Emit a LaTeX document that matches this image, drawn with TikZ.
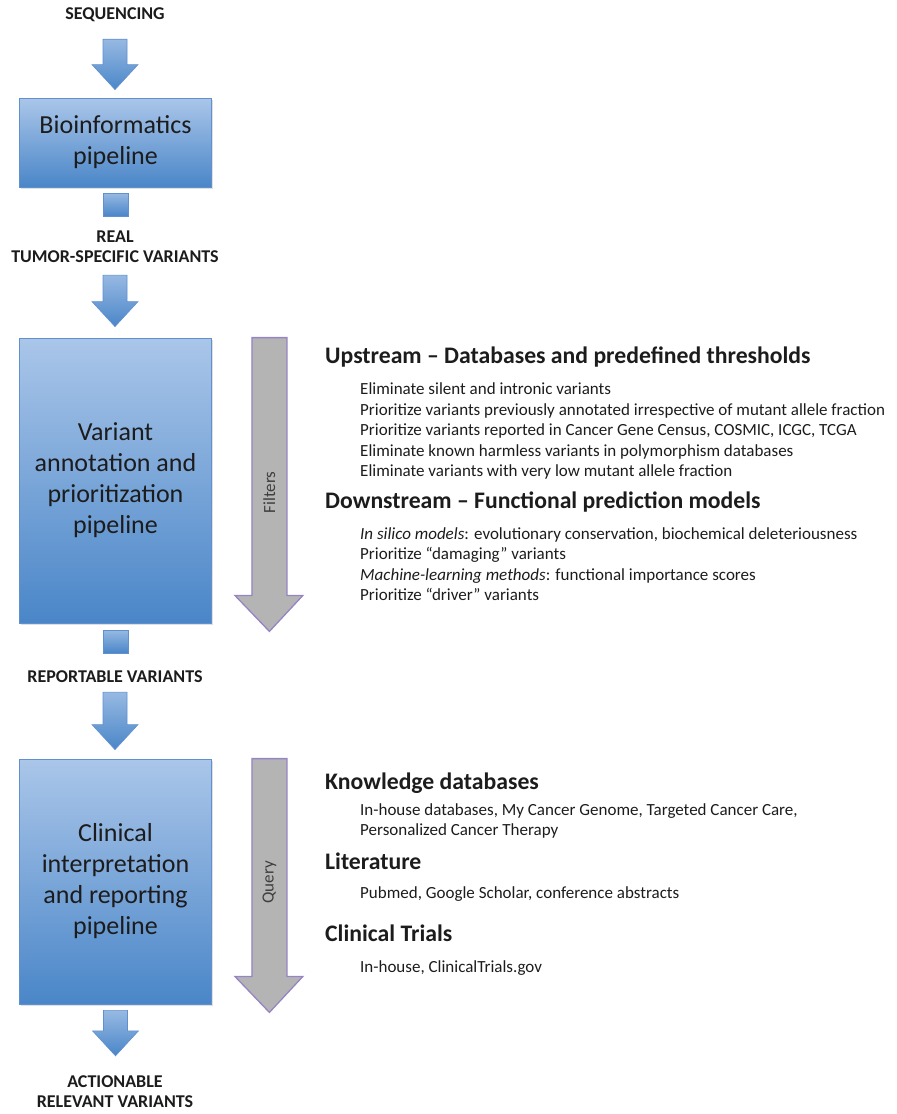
\documentclass[tikz,border=0pt]{standalone}
\usepackage{fontspec}
\setmainfont{Carlito}
\usetikzlibrary{calc,shadows}

\definecolor{pipetop}{RGB}{170,198,233}
\definecolor{pipebot}{RGB}{74,134,200}
\definecolor{pipeedge}{RGB}{96,144,206}
\definecolor{sidefill}{RGB}{180,180,180}
\definecolor{sideedge}{RGB}{150,132,196}
\definecolor{ink}{RGB}{28,28,28}

% blue block arrow between two nodes: #3 gap below the first, #4 gap above the second
\newcommand{\blockarrow}[4]{%
  \shade[flowarrow] let \p1=(#1.south), \p2=(#2.north) in
    (\x1-12pt,\y1-#3pt) -- (\x1+12pt,\y1-#3pt) -- (\x1+12pt,\y2+#4pt+25pt)
    -- (\x1+23pt,\y2+#4pt+25pt) -- (\x1,\y2+#4pt) -- (\x1-23pt,\y2+#4pt+25pt)
    -- (\x1-12pt,\y2+#4pt+25pt) -- cycle;}

% grey arrow running down the right side of a pipeline box, #4 moves the label down
\newcommand{\sidearrow}[4]{%
  \filldraw[sidearrowline] let \p1=(#1.north east), \p2=(#1.south east) in
    (\x1+40pt,\y1) -- (\x1+75pt,\y1) -- (\x1+75pt,\y2+28pt) -- (\x1+91pt,\y2+28pt)
    -- (\x1+57.5pt,\y2-8pt) -- (\x1+23pt,\y2+28pt) -- (\x1+40pt,\y2+28pt) -- cycle;
  \node[sidelabel] (#2) at ($(#1.north east)!0.5!(#1.south east)+(57.5pt,-#4pt)$) {#3};}

\begin{document}
\begin{tikzpicture}[
    x=1pt, y=-1pt,
    every node/.style={text=ink},
    pipebox/.style={rectangle, draw=pipeedge, line width=0.8pt, top color=pipetop, bottom color=pipebot,
        align=center, minimum width=192pt, inner sep=0pt, font=\fontsize{26}{31}\selectfont,
        drop shadow={shadow xshift=1pt, shadow yshift=-2pt, opacity=0.25}},
    stub/.style={rectangle, draw=pipeedge, line width=0.6pt, top color=pipetop!80!pipebot, bottom color=pipebot,
        minimum width=25pt, minimum height=23pt, inner sep=0pt},
    flowarrow/.style={draw=pipeedge, line width=0.6pt, top color=pipetop!80!pipebot, bottom color=pipebot},
    stage/.style={align=center, inner sep=0pt, font=\bfseries\fontsize{18}{20}\selectfont},
    sidearrowline/.style={fill=sidefill, draw=sideedge, line width=1.3pt, line join=miter},
    sidelabel/.style={rotate=90, inner sep=0pt, text=ink!85, font=\fontsize{17}{20}\selectfont},
    heading/.style={anchor=west, inner sep=0pt, font=\bfseries\fontsize{23.7}{27}\selectfont},
    items/.style={anchor=west, align=left, inner sep=0pt, font=\fontsize{17}{20.5}\selectfont}
]
    \useasboundingbox (0,0) rectangle (897,1114);

    % left column
    \node [stage] (seq) at (115,15) {SEQUENCING};
    \node [pipebox, minimum height=89pt] (bio) at (115.5,142.5) {Bioinformatics\\pipeline};
    \node [stub] (stub1) at (115.5,204.5) {};
    \node [stage] (real) at (115,247) {REAL\\TUMOR-SPECIFIC VARIANTS};
    \node [pipebox, minimum height=285pt] (var) at (115.5,480.5) {Variant\\annotation and\\prioritization\\pipeline};
    \node [stub] (stub2) at (115.5,641.5) {};
    \node [stage] (rep) at (115,677) {REPORTABLE VARIANTS};
    \node [pipebox, minimum height=245pt] (clin) at (115.5,881.5) {Clinical\\interpretation\\and reporting\\pipeline};
    \node [stage] (act) at (115,1092) {ACTIONABLE\\RELEVANT VARIANTS};

    \blockarrow{seq}{bio}{17}{8}
    \blockarrow{real}{var}{12}{11}
    \blockarrow{rep}{clin}{9}{9}
    \blockarrow{clin}{act}{6}{20}

    % filters and queries
    \sidearrow{var}{filters}{Filters}{12}
    \sidearrow{clin}{query}{Query}{1}

    \node [heading] (up) at (325,357) {Upstream -- Databases and predefined thresholds};
    \node [items] (upitems) at (360,431) {Eliminate silent and intronic variants\\
        Prioritize variants previously annotated irrespective of mutant allele fraction\\
        Prioritize variants reported in Cancer Gene Census, COSMIC, ICGC, TCGA\\
        Eliminate known harmless variants in polymorphism databases\\
        Eliminate variants with very low mutant allele fraction};
    \node [heading] (down) at (325,502) {Downstream -- Functional prediction models};
    \node [items] (downitems) at (360,564) {\textit{In silico models}: evolutionary conservation, biochemical deleteriousness\\
        Prioritize “damaging” variants\\
        \textit{Machine-learning methods}: functional importance scores\\
        Prioritize “driver” variants};

    \node [heading] (kb) at (325,783) {Knowledge databases};
    \node [items] (kbitems) at (360,821) {In-house databases, My Cancer Genome, Targeted Cancer Care,\\
        Personalized Cancer Therapy};
    \node [heading] (lit) at (325,861) {Literature};
    \node [items] (lititems) at (360,894) {Pubmed, Google Scholar, conference abstracts};
    \node [heading] (trials) at (325,933) {Clinical Trials};
    \node [items] (trialitems) at (360,968) {In-house, ClinicalTrials.gov};
\end{tikzpicture}
\end{document}
